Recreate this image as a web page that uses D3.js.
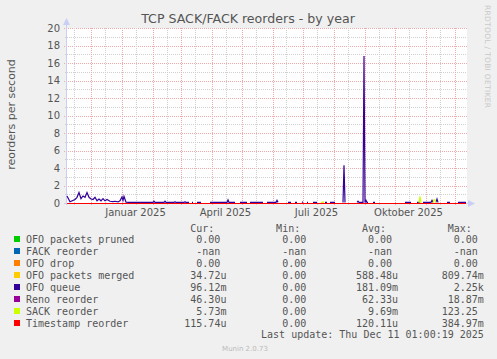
<!DOCTYPE html>
<html>
<head>
<meta charset="utf-8">
<script src="https://cdn.jsdelivr.net/npm/d3@7"></script>
<style>
  body { margin: 0; background: #f0f0f0; }
  svg { display: block; }
</style>
</head>
<body>
<div id="chart"></div>
<script>

// chart values
const chartTitle = 'TCP SACK/FACK reorders - by year';
const yTitle = 'reorders per second';
const startDate = new Date(2024, 10, 7, 12);   // left edge of the plot
const endDate = new Date(2025, 11, 12, 12);    // right edge (400 days)
const yTicks = [0, 2, 4, 6, 8, 10, 12, 14, 16, 18, 20];
const monthLabels = ['Januar 2025', 'April 2025', 'Juli 2025', 'Oktober 2025'];
const monthLabelDates = [new Date(2025, 0, 15), new Date(2025, 3, 15), new Date(2025, 6, 15), new Date(2025, 9, 15)];

// OFO queue: day offset from startDate, value (null = no data)
const queueDays = [0, 3, 8, 10, 12, 14, 16, 18, 20, 22, 24, 26, 28, 30, 32, 34, 36, 38, 40, 43, 46, 48, 51, 53, 55, 56, 57, 59, 62,
  86, 87, 88, 97, 98, 99, 107, 108, 109, 117, 118, 119, 122, 123, 125, 126, 127, 130, 134, 135,
  143, 160, 161, 162, 168, 169, 173, 180, 181, 183, 196, 197, 200, 209, 210, 211, 212,
  221, 224, 225, 228, 230, 231, 235, 236, 237, 240, 241, 242, 246, 250, 251, 258, 260, 261, 263, 268, 269,
  276, 277, 278, 279, 290, 291, 292, 296, 297, 298, 299, 300, 301, 302, 306, 308, 309,
  338, 344, 345, 350, 353, 354, 356, 361, 364, 365, 366, 367, 369, 370, 371, 372, 380, 383, 384, 391, 399];
const queueVals = [0.8, 0.15, 0.4, 0.65, 1.2, 0.5, 0.8, 0.65, 1.2, 0.65, 0.45, 0.4, 0.65, 0.25, 0.45, 0.25, 0.5, 0.25, 0.4, 0.2, 0.15, 0.2, 0.12, 0.25, 0.7, 0.3, 0.75, 0.1, 0.08,
  0.07, 0.2, 0.07, 0.07, 0.2, 0.07, 0.07, 0.15, 0.07, 0.07, 0.15, 0.07, 0.07, null, 0.07, 0.07, null, 0.07, 0.07, null,
  0.07, 0.07, 0.35, 0.07, 0.07, null, 0.07, 0.07, null, 0.07, 0.07, null, 0.07, 0.07, 0.3, 0.07, null,
  0.07, 0.07, null, 0.07, 0.07, null, 0.07, 0.15, null, 0.07, 0.07, null, 0.07, 0.07, null, 0.07, 0.07, null, 0.07, 0.07, null,
  0.05, 4.3, 0.05, null, 0.07, 0.2, 0.07, 0.07, 16.8, 0.07, 0.3, 0.07, 0.07, null, 0.07, 0.07, null,
  0.07, 0.07, null, 0.07, 0.07, null, 0.07, 0.07, 0.07, 0.3, 0.07, null, 0.07, 0.45, 0.07, null, 0.07, 0.07, null, 0.07, 0.07];

// SACK reorder: only the bumps that rise above the zero line
const sackDays = [254, 255, 256, 257, 258, 352, 353, 354, 355, 366, 367, 368, 369];
const sackVals = [0.02, 0.1, 0.12, 0.02, null, 0.02, 0.75, 0.02, null, 0.02, 0.35, 0.35, 0.02];

// series that stay on the zero line
const flatDays = [0, 399];
const flatVals = [0, 0];

// legend table
const legendNames = ['OFO packets pruned', 'FACK reorder', 'OFO drop', 'OFO packets merged', 'OFO queue', 'Reno reorder', 'SACK reorder', 'Timestamp reorder'];
const legendColors = ['#00cc00', '#0066b3', '#ff8000', '#ffcc00', '#330099', '#990099', '#ccff00', '#ff0000'];
const curVals = ['0.00', '-nan', '0.00', '34.72u', '96.12m', '46.30u', '5.73m', '115.74u'];
const minVals = ['0.00', '-nan', '0.00', '0.00', '0.00', '0.00', '0.00', '0.00'];
const avgVals = ['0.00', '-nan', '0.00', '588.48u', '181.09m', '62.33u', '9.69m', '120.11u'];
const maxVals = ['0.00', '-nan', '0.00', '809.74m', '2.25k', '18.87m', '123.25', '384.97m'];
const columnHeads = ['Cur:', 'Min:', 'Avg:', 'Max:'];
const lastUpdate = 'Last update: Thu Dec 11 01:00:19 2025';


// dimensions
const width = 497, height = 359;
const plot = { left: 67, right: 467, top: 28, bottom: 203 };

const svg = d3.select('#chart').append('svg')
  .attr('width', width)
  .attr('height', height);

svg.append('rect')
  .attr('width', width).attr('height', height)
  .attr('fill', '#f0f0f0');

svg.append('rect')
  .attr('x', plot.left).attr('y', plot.top)
  .attr('width', plot.right - plot.left).attr('height', plot.bottom - plot.top)
  .attr('fill', '#ffffff');

// scales
const xScale = d3.scaleTime()
  .domain([startDate, endDate])
  .range([plot.left, plot.right]);

const yScale = d3.scaleLinear()
  .domain([0, 20])
  .range([plot.bottom, plot.top]);

const dayToDate = i => new Date(+startDate + i * 864e5);

// grid
const gridGrey = '#cfcfcf';
const gridRed = '#eeaaaa';
const grid = svg.append('g').attr('shape-rendering', 'crispEdges');

// horizontal: labelled values red, odd values grey
d3.range(1, 20, 2).forEach(v => {
  grid.append('line')
    .attr('x1', plot.left - 2).attr('x2', plot.right)
    .attr('y1', Math.round(yScale(v)) + 0.5).attr('y2', Math.round(yScale(v)) + 0.5)
    .attr('stroke', gridGrey).attr('stroke-dasharray', '1,1');
});
yTicks.slice(1).forEach(v => {
  grid.append('line')
    .attr('x1', plot.left - 3).attr('x2', plot.right)
    .attr('y1', Math.round(yScale(v)) + 0.5).attr('y2', Math.round(yScale(v)) + 0.5)
    .attr('stroke', gridRed).attr('stroke-dasharray', '1,1');
});

// vertical: mid-month grey, month start red
const midMonths = d3.timeDay.range(startDate, endDate).filter(d => d.getDate() === 15);
midMonths.forEach(d => {
  const px = Math.round(xScale(d)) + 0.5;
  grid.append('line')
    .attr('x1', px).attr('x2', px)
    .attr('y1', plot.top).attr('y2', plot.bottom + 2)
    .attr('stroke', gridGrey).attr('stroke-dasharray', '1,1');
});
const monthStarts = d3.timeMonth.range(startDate, endDate);
monthStarts.forEach(d => {
  const px = Math.round(xScale(d)) + 0.5;
  grid.append('line')
    .attr('x1', px).attr('x2', px)
    .attr('y1', plot.top).attr('y2', plot.bottom + 3)
    .attr('stroke', gridRed).attr('stroke-dasharray', '1,1');
});

// axes (light blue, with arrows)
const axisColor = '#c8cef4';
svg.append('line')
  .attr('x1', plot.left - 0.5).attr('x2', plot.left - 0.5)
  .attr('y1', plot.bottom + 2).attr('y2', plot.top - 5)
  .attr('stroke', axisColor);
svg.append('path')
  .attr('d', `M${plot.left - 4},${plot.top - 3}L${plot.left + 3},${plot.top - 3}L${plot.left - 0.5},${plot.top - 10}Z`)
  .attr('fill', axisColor);
svg.append('line')
  .attr('x1', plot.left - 3).attr('x2', plot.right + 3)
  .attr('y1', plot.bottom + 0.5).attr('y2', plot.bottom + 0.5)
  .attr('stroke', axisColor);
svg.append('path')
  .attr('d', `M${plot.right + 1},${plot.bottom - 3}L${plot.right + 1},${plot.bottom + 4}L${plot.right + 8},${plot.bottom + 0.5}Z`)
  .attr('fill', axisColor);

// tick labels
svg.append('g').selectAll('text')
  .data(yTicks)
  .join('text')
  .attr('x', plot.left - 7)
  .attr('y', d => yScale(d) + 3.5)
  .attr('text-anchor', 'end')
  .style('font-family', 'DejaVu Sans')
  .style('font-size', '10px')
  .style('fill', '#555')
  .text(d => d);

svg.append('g').selectAll('text')
  .data(monthLabels)
  .join('text')
  .attr('x', (d, i) => xScale(monthLabelDates[i]))
  .attr('y', 216)
  .attr('text-anchor', 'middle')
  .style('font-family', 'DejaVu Sans')
  .style('font-size', '10px')
  .style('fill', '#555')
  .text(d => d);

// series lines
const lineGen = d3.line()
  .defined(d => d[1] !== null)
  .x(d => xScale(dayToDate(d[0])))
  .y(d => yScale(d[1]));

const zip = (a, b) => a.map((v, i) => [v, b[i]]);

// rrdtool order; the timestamp line on the zero level goes last
const drawOrder = [
  { color: legendColors[0], pts: zip(flatDays, flatVals), flat: true },
  { color: legendColors[2], pts: zip(flatDays, flatVals), flat: true },
  { color: legendColors[3], pts: zip(flatDays, flatVals), flat: true },
  { color: legendColors[4], pts: zip(queueDays, queueVals) },
  { color: legendColors[5], pts: zip(flatDays, flatVals), flat: true },
  { color: legendColors[6], pts: zip(sackDays, sackVals) },
  { color: legendColors[7], pts: zip(flatDays, flatVals), flat: true }
];

const lines = svg.append('g');
drawOrder.forEach(s => {
  lines.append('path')
    .attr('d', lineGen(s.pts))
    .attr('fill', 'none')
    .attr('stroke', s.color)
    .attr('stroke-width', s.flat ? 1 : 1.2)
    .attr('shape-rendering', s.flat ? 'crispEdges' : 'auto');
});

// title and side texts
svg.append('text')
  .attr('x', 248)
  .attr('y', 23)
  .attr('text-anchor', 'middle')
  .style('font-family', 'DejaVu Sans')
  .style('font-size', '12.6px')
  .style('fill', '#555')
  .text(chartTitle);

svg.append('text')
  .attr('transform', 'translate(15,114.5) rotate(-90)')
  .attr('text-anchor', 'middle')
  .style('font-family', 'DejaVu Sans')
  .style('font-size', '11px')
  .style('fill', '#555')
  .text(yTitle);

svg.append('text')
  .attr('transform', 'translate(485,5) rotate(90)')
  .style('font-family', 'DejaVu Sans')
  .style('font-size', '7.5px')
  .style('letter-spacing', '0.3px')
  .style('fill', '#c8c8c8')
  .text('RRDTOOL / TOBI OETIKER');

// legend
const mono = 'DejaVu Sans Mono';
const cw = 6.02;
const colStart = [184.3, 270.1, 355.9, 441.7];
const legend = svg.append('g')
  .style('font-family', mono)
  .style('font-size', '10px')
  .style('fill', '#555');

columnHeads.forEach((h, i) => {
  legend.append('text')
    .attr('x', colStart[i] + cw)
    .attr('y', 231.5)
    .text(h);
});

const cols = [curVals, minVals, avgVals, maxVals];
legendNames.forEach((name, r) => {
  const by = 243 + r * 12;
  legend.append('rect')
    .attr('x', 14).attr('y', by - 7)
    .attr('width', 6).attr('height', 6)
    .attr('fill', legendColors[r]);
  legend.append('text')
    .attr('x', 26).attr('y', by)
    .text(name);
  cols.forEach((vals, c) => {
    const v = vals[r];
    const hasUnit = /[umkMG]$/.test(v);
    legend.append('text')
      .attr('x', colStart[c] + 7 * cw - (hasUnit ? 0 : cw))
      .attr('y', by)
      .attr('text-anchor', 'end')
      .text(v);
  });
});

legend.append('text')
  .attr('x', colStart[3] + 7 * cw)
  .attr('y', 337.5)
  .attr('text-anchor', 'end')
  .text(lastUpdate);

svg.append('text')
  .attr('x', 245)
  .attr('y', 351)
  .attr('text-anchor', 'middle')
  .style('font-family', 'DejaVu Sans')
  .style('font-size', '7px')
  .style('fill', '#bbb')
  .text('Munin 2.0.73');

</script>
</body>
</html>
